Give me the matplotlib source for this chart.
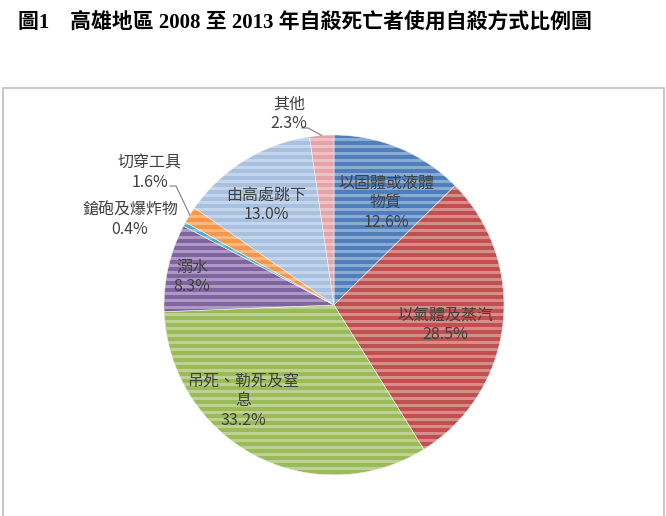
import numpy as np
import matplotlib.pyplot as plt
from matplotlib.patches import Rectangle

plt.rcParams['font.family'] = ['Noto Sans CJK TC', 'DejaVu Sans']

# data (clockwise from 12 o'clock)
methods = ["以固體或液體\n物質", "以氣體及蒸汽", "吊死、勒死及窒\n息", "溺水",
           "鎗砲及爆炸物", "切穿工具", "由高處跳下", "其他"]
shares = [12.6, 28.5, 33.2, 8.3, 0.4, 1.6, 13.0, 2.3]
colors = ["#4f7fbb", "#c0504d", "#9bbb59", "#8064a2",
          "#4bacc6", "#f79646", "#a9c1e0", "#e6a3a8"]

# label anchor points (pixel coords, y from top)
label_xy = [(386, 203), (445, 325), (243, 401), (192, 277),
            (130, 220), (150, 173), (266, 205), (289, 114)]
leader = {5: (176, 186), 7: (308, 128)}

W, H = 666, 516
fig = plt.figure(figsize=(6.66, 5.16), dpi=100)
ax = fig.add_axes([0, 0, 1, 1])

cx, cy, r = 334, H - 305, 170
wedges, _ = ax.pie(shares, colors=colors, startangle=90, counterclock=False,
                   center=(cx, cy), radius=r,
                   wedgeprops=dict(linewidth=0.4, edgecolor="#f2f2f2"))
ax.set_xlim(0, W)
ax.set_ylim(0, H)
ax.set_aspect('equal')
ax.axis('off')

# horizontal stripe texture over the pie
clip = plt.Circle((cx, cy), r, transform=ax.transData)
for yy in np.arange(cy - r, cy + r, 7.0):
    ln, = ax.plot([cx - r, cx + r], [yy, yy], color="white", alpha=0.35,
                  lw=2.2, solid_capstyle='butt')
    ln.set_clip_path(clip)

# labels
for i, (name, val) in enumerate(zip(methods, shares)):
    x, y = label_xy[i]
    ax.text(x, H - y, f"{name}\n{val:.1f}%", ha="center", va="center",
            fontsize=11.5, color="#404040", linespacing=1.2)

# leader lines for small outer slices
for i, (lx, ly) in leader.items():
    w = wedges[i]
    ang = np.deg2rad((w.theta1 + w.theta2) / 2)
    ex, ey = cx + r * np.cos(ang), cy + r * np.sin(ang)
    ax.plot([lx - 6, lx, ex], [H - ly, H - ly, ey], color="#7f7f7f", lw=0.8)

# chart frame
ax.add_patch(Rectangle((3, -5), 661, H - 88 + 5, fill=False,
                       edgecolor="#bfbfbf", lw=1.2))

fig.text(18 / W, 1 - 22 / H, "圖1　高雄地區 2008 至 2013 年自殺死亡者使用自殺方式比例圖",
         fontsize=15, fontweight="bold", color="black", va="center", ha="left",
         family=['Liberation Serif', 'Noto Sans CJK TC'])

fig.savefig("out.png", dpi=100)
